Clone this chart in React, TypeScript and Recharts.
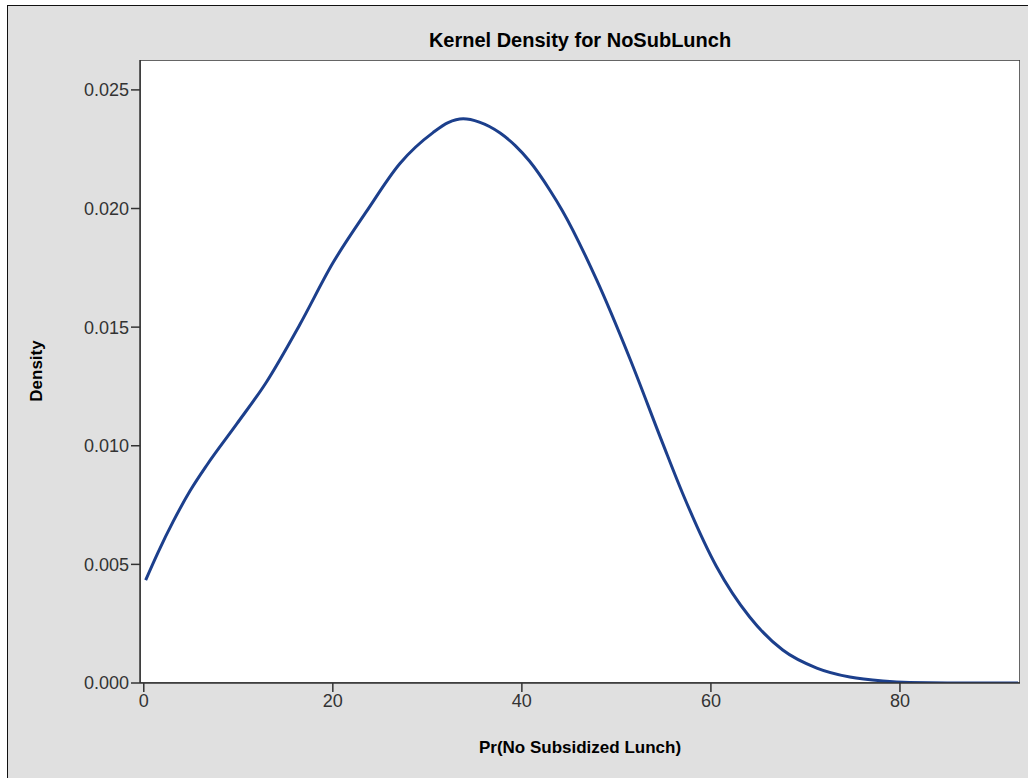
import React from 'react';
import { LineChart, Line, XAxis, YAxis, ReferenceArea } from 'recharts';

// values
const xValues = [0.2, 1.5, 3.1, 4.9, 6.7, 9.8, 13.0, 16.5, 20.0, 23.6, 27.1, 30.6, 32.2, 33.8, 35.5, 37.7, 39.3, 40.8, 43.0, 44.3, 47.9, 51.4, 54.9, 57.0, 60.6, 64.1, 67.6, 71.2, 74.7, 78.2, 81.0, 85.0, 92.5];
const densityValues = [0.00434, 0.0055, 0.0068, 0.0081, 0.0092, 0.0109, 0.0127, 0.0151, 0.0177, 0.0199, 0.0219, 0.0232, 0.02362, 0.02378, 0.02364, 0.02318, 0.02265, 0.022, 0.02075, 0.0199, 0.017, 0.0137, 0.0101, 0.008, 0.0049, 0.00278, 0.00139, 0.00063, 0.00025, 0.00008, 0.00002, 0.000005, 0];
const xTicks = [0, 20, 40, 60, 80];
const yTicks = [0, 0.005, 0.01, 0.015, 0.02, 0.025];

const data = xValues.map((x, i) => ({ x, density: densityValues[i] }));

const X_DOMAIN: [number, number] = [-0.4, 92.7];
const Y_DOMAIN: [number, number] = [0, 0.02626];

const font = '"Liberation Sans", Arial, sans-serif';
const tickStyle = { fontSize: 18, fill: '#333', fontFamily: font };

export default function App() {
    return (
        <div style={{ position: 'absolute', left: 0, top: 0, width: 1028, height: 778, background: '#fff', fontFamily: font }}>
            <div style={{ position: 'absolute', left: 7, top: 5, right: 0, bottom: 0, background: '#e0e0e0', borderLeft: '1.5px solid #111', borderTop: '1.5px solid #111' }} />
            <div style={{ position: 'absolute', left: 0, top: 0 }}>
                <LineChart width={1028} height={778} data={data} margin={{ top: 60, right: 8, left: 40, bottom: 55 }}>
                    <ReferenceArea x1={X_DOMAIN[0]} x2={X_DOMAIN[1]} y1={Y_DOMAIN[0]} y2={Y_DOMAIN[1]} fill="#fff" fillOpacity={1} stroke="#333" strokeWidth={1.5} ifOverflow="hidden" />
                    <XAxis
                        dataKey="x"
                        type="number"
                        domain={X_DOMAIN}
                        ticks={xTicks}
                        allowDataOverflow
                        height={40}
                        tick={tickStyle}
                        tickSize={9}
                        axisLine={{ stroke: '#333', strokeWidth: 1.5 }}
                        tickLine={{ stroke: '#333', strokeWidth: 1.5 }}
                    />
                    <YAxis
                        type="number"
                        domain={Y_DOMAIN}
                        ticks={yTicks}
                        allowDataOverflow
                        width={100}
                        tick={tickStyle}
                        tickSize={9}
                        tickFormatter={(v: number) => v.toFixed(3)}
                        axisLine={{ stroke: '#333', strokeWidth: 1.5 }}
                        tickLine={{ stroke: '#333', strokeWidth: 1.5 }}
                    />
                    <Line type="monotone" dataKey="density" stroke="#1c3f8c" strokeWidth={3} dot={false} isAnimationActive={false} />
                </LineChart>
            </div>
            <div style={{ position: 'absolute', left: 580, top: 28, transform: 'translateX(-50%)', fontSize: 20, lineHeight: '24px', fontWeight: 'bold', whiteSpace: 'nowrap', color: '#000' }}>
                Kernel Density for NoSubLunch
            </div>
            <div style={{ position: 'absolute', left: 37, top: 371, transform: 'translate(-50%, -50%) rotate(-90deg)', fontSize: 17, lineHeight: '20px', fontWeight: 'bold', whiteSpace: 'nowrap', color: '#000' }}>
                Density
            </div>
            <div style={{ position: 'absolute', left: 580, top: 748, transform: 'translate(-50%, -50%)', fontSize: 17, lineHeight: '20px', fontWeight: 'bold', whiteSpace: 'nowrap', color: '#000' }}>
                Pr(No Subsidized Lunch)
            </div>
        </div>
    );
}
